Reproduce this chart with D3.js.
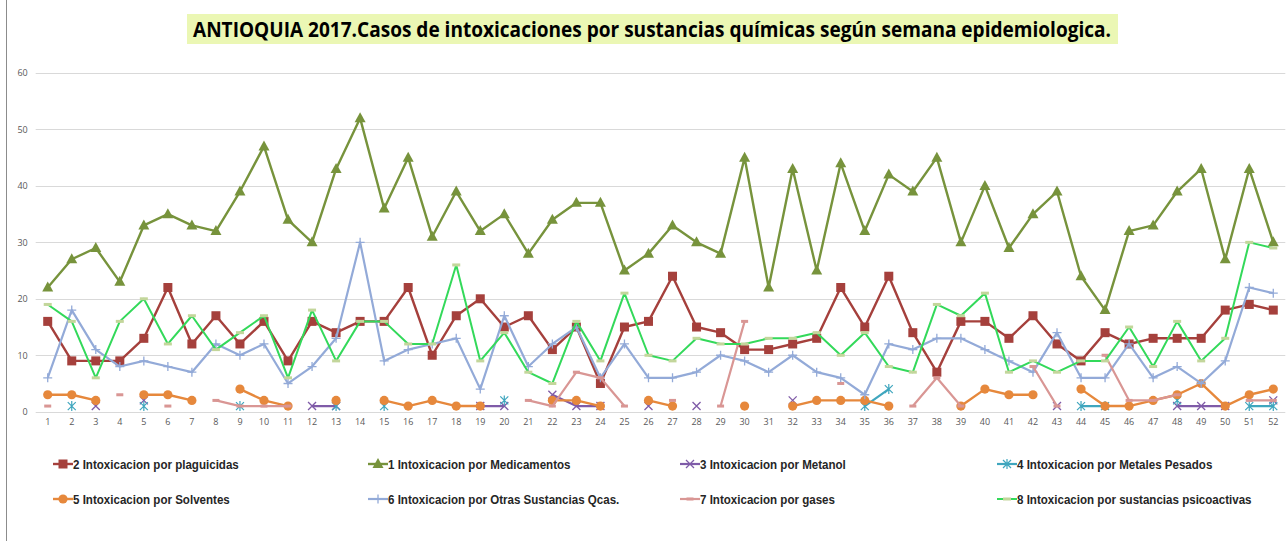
<!DOCTYPE html>
<html><head><meta charset="utf-8">
<script src="https://cdn.jsdelivr.net/npm/d3@7/dist/d3.min.js"></script>
<style>body{margin:0;background:#fff}svg{display:block}</style>
</head><body>
<script>
const weeks = d3.range(1, 53);
const yTicks = [0,10,20,30,40,50,60];
const n = null;
const plaguicidas = [16,9,9,9,13,22,12,17,12,16,9,16,14,16,16,22,10,17,20,15,17,11,15,5,15,16,24,15,14,11,11,12,13,22,15,24,14,7,16,16,13,17,12,9,14,12,13,13,13,18,19,18];
const medicamentos = [22,27,29,23,33,35,33,32,39,47,34,30,43,52,36,45,31,39,32,35,28,34,37,37,25,28,33,30,28,45,22,43,25,44,32,42,39,45,30,40,29,35,39,24,18,32,33,39,43,27,43,30];
const metanol = [n,n,1,n,2,n,n,n,n,n,n,1,1,n,n,n,n,n,1,1,n,3,1,1,n,1,n,1,n,n,n,2,n,n,n,n,n,n,n,n,n,n,1,n,n,n,n,1,1,1,n,2];
const metales = [n,1,n,n,1,n,n,n,1,n,n,n,1,n,1,n,n,n,n,2,n,n,n,n,n,n,n,n,n,n,n,n,n,n,1,4,n,n,n,n,n,n,n,1,1,n,n,2,n,n,1,1];
const solventes = [3,3,2,n,3,3,2,n,4,2,1,n,2,n,2,1,2,1,1,n,n,2,2,1,n,2,1,n,n,1,n,1,2,2,2,1,n,n,1,4,3,3,n,4,1,1,2,3,5,1,3,4];
const otras = [6,18,11,8,9,8,7,12,10,12,5,8,13,30,9,11,12,13,4,17,8,12,15,6,12,6,6,7,10,9,7,10,7,6,3,12,11,13,13,11,9,7,14,6,6,12,6,8,5,9,22,21];
const gases = [1,n,n,3,n,1,n,2,1,1,1,n,n,n,n,n,n,n,n,n,2,1,7,6,1,n,2,n,1,16,n,n,n,5,n,n,1,6,1,n,n,8,1,n,10,2,2,3,n,n,2,2];
const psicoactivas = [19,16,6,16,20,12,17,11,14,17,6,18,9,16,16,12,12,26,9,14,7,5,16,9,21,10,9,13,12,12,13,13,14,10,14,8,7,19,17,21,7,9,7,9,9,15,8,16,9,13,30,29];

const series = [
  {name:"2 Intoxicacion por plaguicidas", data:plaguicidas, color:"#A5403C", mark:"square", lw:2.4},
  {name:"1 Intoxicacion por Medicamentos", data:medicamentos, color:"#77933C", mark:"triangle", lw:2.4},
  {name:"3 Intoxicacion por Metanol", data:metanol, color:"#7F5BA8", mark:"x", lw:2.2},
  {name:"4 Intoxicacion por Metales Pesados", data:metales, color:"#3FA6BE", mark:"star", lw:2.2},
  {name:"5 Intoxicacion por Solventes", data:solventes, color:"#E6883C", mark:"circle", lw:2.4},
  {name:"6 Intoxicacion por Otras Sustancias Qcas.", data:otras, color:"#93AAD8", mark:"plus", lw:2.2},
  {name:"7 Intoxicacion por gases", data:gases, color:"#D99694", mark:"dash", lw:2.2},
  {name:"8 Intoxicacion por sustancias psicoactivas", data:psicoactivas, color:"#33D95A", mark:"dashg", lw:2}
];

const W=1286,H=541;
const svg=d3.select("body").append("svg").attr("width",W).attr("height",H);
svg.append("line").attr("x1",6.5).attr("x2",6.5).attr("y1",0).attr("y2",H).attr("stroke","#8c8c8c").attr("stroke-width",1);

const x=d3.scaleBand().domain(weeks).range([35.7,1285.3]);
const xc=d=>x(d)+x.bandwidth()/2;
const y=d3.scaleLinear().domain([0,60]).range([411.7,73]);

svg.append("g").selectAll("line").data(yTicks).join("line")
  .attr("x1",35.7).attr("x2",1285.3).attr("y1",d=>Math.round(y(d))+0.5).attr("y2",d=>Math.round(y(d))+0.5)
  .attr("stroke","#D9D9D9").attr("stroke-width",1);

const yAxis=d3.axisLeft(y).tickValues(yTicks).tickSize(0).tickPadding(8);
const gy=svg.append("g").attr("transform","translate(35.7,0)").call(yAxis);
gy.select(".domain").remove();
gy.selectAll("text").attr("font-family","Open Sans, Liberation Sans, sans-serif").attr("font-size",9).attr("fill","#595959");
const xAxis=d3.axisBottom(x).tickSize(0).tickPadding(7);
const gx=svg.append("g").attr("transform","translate(0,411.7)").call(xAxis);
gx.select(".domain").remove();
gx.selectAll("text").attr("font-family","Open Sans, Liberation Sans, sans-serif").attr("font-size",9).attr("fill","#595959");

function drawMark(g, m, cx, cy, color){
  if(m==="square") g.append("rect").attr("x",cx-4.5).attr("y",cy-4.5).attr("width",9).attr("height",9).attr("fill",color);
  else if(m==="triangle") g.append("path").attr("d",`M${cx},${cy-6}L${cx+5.5},${cy+4}L${cx-5.5},${cy+4}Z`).attr("fill",color);
  else if(m==="circle") g.append("circle").attr("cx",cx).attr("cy",cy).attr("r",4.6).attr("fill",color);
  else if(m==="x") g.append("path").attr("d",`M${cx-4},${cy-4}L${cx+4},${cy+4}M${cx-4},${cy+4}L${cx+4},${cy-4}`).attr("stroke",color).attr("stroke-width",1.3).attr("fill","none");
  else if(m==="star") g.append("path").attr("d",`M${cx-4},${cy-4}L${cx+4},${cy+4}M${cx-4},${cy+4}L${cx+4},${cy-4}M${cx},${cy-5}L${cx},${cy+5}`).attr("stroke",color).attr("stroke-width",1.2).attr("fill","none");
  else if(m==="plus") g.append("path").attr("d",`M${cx-4.5},${cy}L${cx+4.5},${cy}M${cx},${cy-4.5}L${cx},${cy+4.5}`).attr("stroke",color).attr("stroke-width",1.3).attr("fill","none");
  else if(m==="dash") g.append("rect").attr("x",cx-3.5).attr("y",cy-1.5).attr("width",7).attr("height",3).attr("fill",color);
  else if(m==="dashg") g.append("rect").attr("x",cx-4).attr("y",cy-1.5).attr("width",8).attr("height",3).attr("fill","#C3D69B");
}

const line=d3.line().defined(d=>d.v!=null).x(d=>xc(d.w)).y(d=>y(d.v));
series.forEach(s=>{
  const pts=weeks.map((w,i)=>({w,v:s.data[i]}));
  const g=svg.append("g");
  g.append("path").datum(pts).attr("d",line).attr("fill","none").attr("stroke",s.color).attr("stroke-width",s.lw).attr("stroke-linejoin","round");
  pts.filter(p=>p.v!=null).forEach(p=>drawMark(g,s.mark,xc(p.w),y(p.v),s.color));
});

svg.append("rect").attr("x",187).attr("y",14).attr("width",931).attr("height",30).attr("fill","#EBF7B4");
svg.append("text").attr("x",652).attr("y",37).attr("text-anchor","middle")
  .attr("font-family","Liberation Sans Narrow, Open Sans, sans-serif").attr("font-weight","bold").attr("font-size",22)
  .attr("textLength",918).attr("lengthAdjust","spacingAndGlyphs")
  .text("ANTIOQUIA 2017.Casos de intoxicaciones por sustancias químicas según semana epidemiologica.");

const colX=[53,368,680,997], rowY=[464,499];
series.forEach((s,i)=>{
  const lx=colX[i%4], ly=rowY[Math.floor(i/4)];
  const g=svg.append("g");
  g.append("line").attr("x1",lx).attr("x2",lx+20).attr("y1",ly).attr("y2",ly).attr("stroke",s.color).attr("stroke-width",s.lw);
  drawMark(g,s.mark,lx+10,ly,s.color);
  const t=g.append("text").attr("x",lx+20).attr("y",ly+4.5).attr("font-family","Liberation Sans Narrow, Liberation Sans, sans-serif")
    .attr("font-weight","bold").attr("font-size",12.5).attr("fill","#262626").text(s.name);
  const len=t.node().getComputedTextLength();
  t.attr("textLength",len*0.925).attr("lengthAdjust","spacingAndGlyphs");
});
</script>
</body></html>
